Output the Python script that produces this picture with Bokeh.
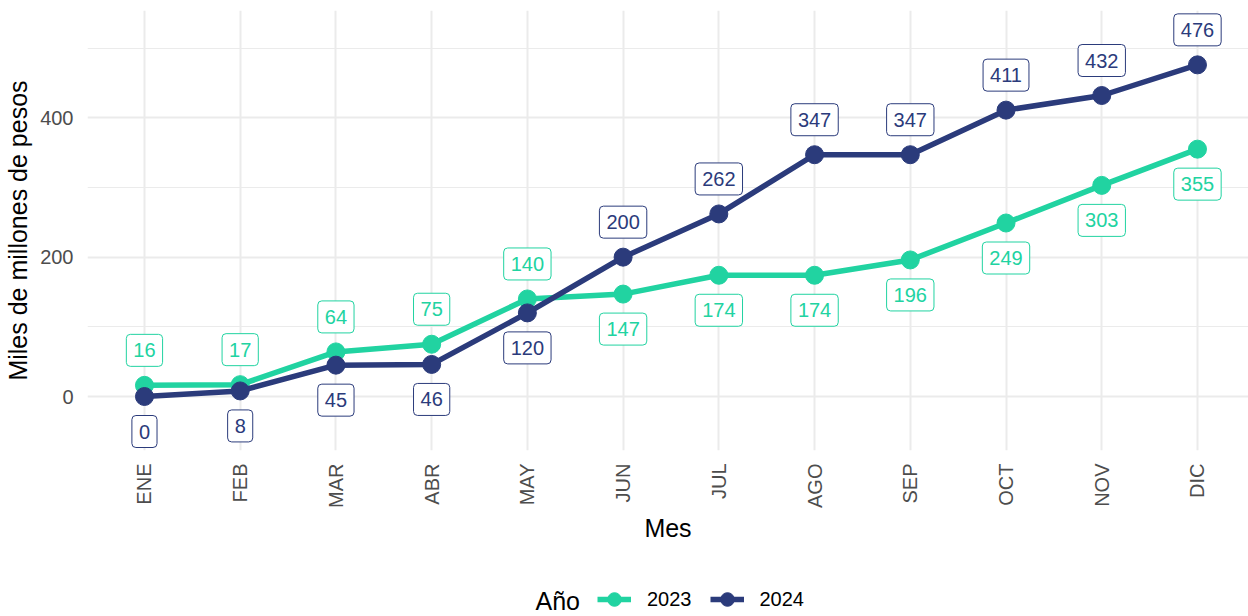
import math
from bokeh.plotting import figure
from bokeh.layouts import column
from bokeh.models import ColumnDataSource, Range1d, FixedTicker, Legend, LegendItem, Label
from bokeh.embed import file_html
from bokeh.resources import INLINE
from bokeh.core.properties import value

months = ["ENE", "FEB", "MAR", "ABR", "MAY", "JUN", "JUL", "AGO", "SEP", "OCT", "NOV", "DIC"]
v2023 = [16, 17, 64, 75, 140, 147, 174, 174, 196, 249, 303, 355]
v2024 = [0, 8, 45, 46, 120, 200, 262, 347, 347, 411, 432, 476]
years = ["2023", "2024"]
colors = ["#21D3A1", "#2B3B7B"]
y_ticks = [0, 200, 400]
y_minor = [100, 300, 500]

FONT = "Liberation Sans"
xs = list(range(1, len(months) + 1))

p = figure(width=1248, height=556, output_backend="svg", toolbar_location=None,
           x_range=Range1d(0.405, 12.533), y_range=Range1d(-77.5, 554),
           min_border_left=87, min_border_right=0, min_border_top=10, min_border_bottom=106)
p.outline_line_color = None
p.background_fill_color = "white"
p.border_fill_color = "white"

# grids
p.xgrid.grid_line_color = "#EBEBEB"
p.xgrid.grid_line_width = 2
p.ygrid.grid_line_color = "#EBEBEB"
p.ygrid.grid_line_width = 2
p.ygrid.minor_grid_line_color = "#EBEBEB"
p.ygrid.minor_grid_line_width = 1.2

p.xaxis.ticker = FixedTicker(ticks=xs)
p.xaxis.major_label_overrides = {i: m for i, m in zip(xs, months)}
p.xaxis.major_label_orientation = math.pi / 2
p.yaxis.ticker = FixedTicker(ticks=y_ticks, minor_ticks=y_minor)
for ax in (p.xaxis, p.yaxis):
    ax.axis_line_color = None
    ax.major_tick_line_color = None
    ax.minor_tick_line_color = None
    ax.major_tick_out = 0
    ax.major_tick_in = 0
    ax.minor_tick_out = 0
    ax.minor_tick_in = 0
    ax.major_label_text_font = FONT
    ax.major_label_text_font_size = "20px"
    ax.major_label_text_color = "#4D4D4D"
    ax.axis_label_text_font = FONT
    ax.axis_label_text_font_size = "25px"
    ax.axis_label_text_font_style = "normal"
    ax.axis_label_text_color = "black"
p.xaxis.axis_label = "Mes"
p.yaxis.axis_label = "Miles de millones de pesos"
p.xaxis.major_label_standoff = 13
p.yaxis.major_label_standoff = 14
p.xaxis.axis_label_standoff = 3
p.yaxis.axis_label_standoff = 5

series = [v2023, v2024]
sources = []
for vals, yr, col in zip(series, years, colors):
    src = ColumnDataSource(dict(x=xs, y=vals))
    sources.append(src)
    p.line("x", "y", source=src, line_color=col, line_width=5.5)
    p.scatter("x", "y", source=src, size=18, fill_color=col, line_color=col)

# labels: larger value above, smaller below
lx, ly, lt, lc, lo = [], [], [], [], []
for i, xv in enumerate(xs):
    for vals, col, other in ((v2023, colors[0], v2024), (v2024, colors[1], v2023)):
        v = vals[i]
        o = other[i]
        lx.append(xv)
        ly.append(v)
        lt.append(str(v))
        lc.append(col)
        lo.append(-35 if v >= o else 35)
lsrc = ColumnDataSource(dict(x=lx, y=ly, t=lt, c=lc, o=lo))
p.text("x", "y", text="t", source=lsrc, text_color="c", text_font=value(FONT),
       text_font_size="20px", text_align="center", text_baseline="middle",
       y_offset="o", background_fill_color="white", border_line_color="c",
       border_line_width=1, padding=(7, 9), border_radius=4)

# legend strip below the chart (x/y ranges in page pixels; series lie out of view)
lf = figure(width=1248, height=60, output_backend="svg", toolbar_location=None,
            x_range=Range1d(87, 1248), y_range=Range1d(616, 556),
            min_border_left=87, min_border_right=0, min_border_top=0, min_border_bottom=0,
            x_axis_location=None, y_axis_location=None)
lf.outline_line_color = None
lf.xgrid.visible = False
lf.ygrid.visible = False
items = []
for src, yr, col in zip(sources, years, colors):
    ln = lf.line("x", "y", source=src, line_color=col, line_width=5.5)
    sc = lf.scatter("x", "y", source=src, size=18, fill_color=col, line_color=col)
    items.append(LegendItem(label=yr, renderers=[ln, sc]))

legend = Legend(items=items, orientation="horizontal", location=(510, 0))
legend.label_text_font = FONT
legend.label_text_font_size = "20px"
legend.label_text_color = "black"
legend.label_standoff = 16
legend.glyph_width = 34
legend.glyph_height = 34
legend.spacing = 18
legend.padding = 0
legend.margin = 0
legend.border_line_color = None
legend.background_fill_alpha = 0
lf.add_layout(legend, "center")

lf.add_layout(Label(x=535, y=600, text="Año", text_font=FONT, text_font_size="25px",
                    text_color="black", text_baseline="middle", text_align="left"))

layout = column(p, lf, spacing=0)
open("out.html", "w").write(file_html(layout, INLINE))
